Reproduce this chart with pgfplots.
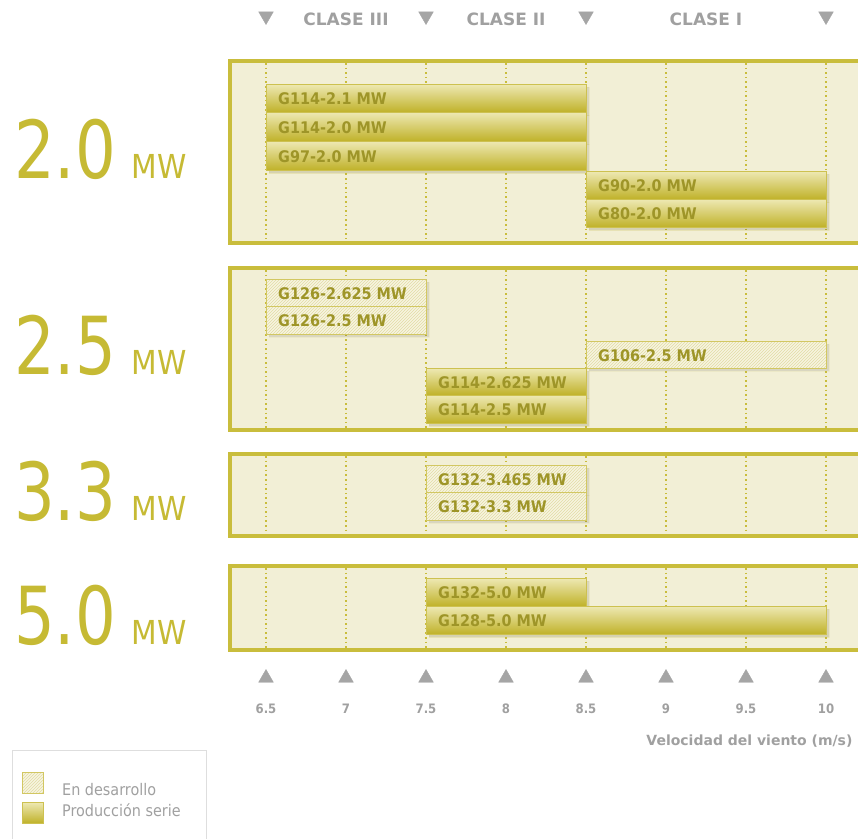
\documentclass[border=0pt]{standalone}
\usepackage{fontspec}
\usepackage{pgfplots}
\pgfplotsset{compat=1.18}
\usetikzlibrary{patterns}
\newfontfamily\dvc{DejaVu Sans Condensed}[BoldFont={DejaVu Sans Condensed Bold}]
\newfontfamily\dv{DejaVu Sans}
\definecolor{gold}{RGB}{198,186,52}
\definecolor{panelfill}{RGB}{242,239,214}
\definecolor{panelline}{RGB}{201,189,60}
\definecolor{prodtop}{RGB}{238,233,180}
\definecolor{prodmid}{RGB}{218,208,118}
\definecolor{prodbot}{RGB}{192,178,42}
\definecolor{prodedge}{RGB}{205,193,80}
\definecolor{devfill}{RGB}{247,244,224}
\definecolor{devhatch}{RGB}{226,220,165}
\definecolor{devedge}{RGB}{210,199,98}
\definecolor{barlabel}{RGB}{158,149,40}
\definecolor{greytxt}{RGB}{160,160,160}
\definecolor{greymark}{RGB}{165,165,165}
\definecolor{legline}{RGB}{222,222,222}

% x pixel -> data: x = 4.8375 + px/160
\newcommand\panel[2]{%
  \fill[panelfill] (axis cs:6.275,#1) rectangle (axis cs:10.2,#2);
  \draw[panelline, line width=3.2pt] (axis cs:10.2,#1) -- (axis cs:6.275,#1) -- (axis cs:6.275,#2) -- (axis cs:10.2,#2);
  \pgfplotsinvokeforeach{6.5,7,7.5,8,8.5,9,9.5,10}{%
    \draw[panelline, line width=1.6pt, dash pattern=on 1.6pt off 3pt] (axis cs:##1,{#1+2}) -- (axis cs:##1,{#2-2});}%
}
\tikzset{barshadow/.style={preaction={fill=black, opacity=0.10, transform canvas={xshift=3pt, yshift=-3pt}}}}
\newcommand\prodbar[5]{%
  \addplot[draw=prodedge, line width=0.7pt, barshadow, top color=prodtop, middle color=prodmid, bottom color=prodbot]
    coordinates {(#1,#3) (#2,#3) (#2,#4) (#1,#4) (#1,#3)};
  \node[anchor=west, text=barlabel, font=\dvc\bfseries\fontsize{16}{16}\selectfont, inner sep=0pt, xshift=12pt]
    at (axis cs:#1,{(#3+#4)/2+1}) {#5};
}
\newcommand\devbar[5]{%
  \addplot[draw=devedge, line width=0.9pt, barshadow, fill=devfill, postaction={pattern=north east lines, pattern color=devhatch}]
    coordinates {(#1,#3) (#2,#3) (#2,#4) (#1,#4) (#1,#3)};
  \node[anchor=west, text=barlabel, font=\dvc\bfseries\fontsize{16}{16}\selectfont, inner sep=0pt, xshift=12pt]
    at (axis cs:#1,{(#3+#4)/2+1}) {#5};
}
\newcommand\biglabel[2]{%
  \node[anchor=base west, inner sep=0pt, text=gold, font=\dvc\fontsize{80}{80}\selectfont] at (axis cs:4.925,#1) {\scalebox{0.89}[1]{#2}};
  \node[anchor=base west, inner sep=0pt, text=gold, font=\dvc\fontsize{33}{33}\selectfont] at (axis cs:5.66,#1) {MW};
}

\begin{document}
\begin{tikzpicture}
\begin{axis}[at={(0,0)}, anchor=south west, scale only axis,
  width=858pt, height=838pt,
  xmin=4.8375, xmax=10.2, ymin=0, ymax=838, y dir=reverse,
  hide axis, clip=false]

% panels
\panel{61}{243}
\panel{268}{430}
\panel{454}{536}
\panel{566}{650}

% 2.0 MW
\prodbar{6.5}{8.5}{84}{112}{G114-2.1 MW}
\prodbar{6.5}{8.5}{112}{141}{G114-2.0 MW}
\prodbar{6.5}{8.5}{141}{170}{G97-2.0 MW}
\prodbar{8.5}{10}{171}{199}{G90-2.0 MW}
\prodbar{8.5}{10}{199}{227}{G80-2.0 MW}

% 2.5 MW
\devbar{6.5}{7.5}{279}{306}{G126-2.625 MW}
\devbar{6.5}{7.5}{306}{334}{G126-2.5 MW}
\devbar{8.5}{10}{341}{368}{G106-2.5 MW}
\prodbar{7.5}{8.5}{368}{395}{G114-2.625 MW}
\prodbar{7.5}{8.5}{395}{423}{G114-2.5 MW}

% 3.3 MW
\devbar{7.5}{8.5}{465}{492}{G132-3.465 MW}
\devbar{7.5}{8.5}{492}{520}{G132-3.3 MW}

% 5.0 MW
\prodbar{7.5}{8.5}{578}{606}{G132-5.0 MW}
\prodbar{7.5}{10}{606}{634}{G128-5.0 MW}

% big labels
\biglabel{178}{2.0}
\biglabel{374}{2.5}
\biglabel{520}{3.3}
\biglabel{644}{5.0}

% class header
\addplot[only marks, mark=triangle*, mark size=8.5pt, mark options={rotate=180, fill=greymark, draw=greymark}, forget plot]
  coordinates {(6.5,16) (7.5,16) (8.5,16) (10,16)};
\node[text=greytxt, font=\dv\bfseries\fontsize{17}{17}\selectfont] at (axis cs:7.0,19) {CLASE III};
\node[text=greytxt, font=\dv\bfseries\fontsize{17}{17}\selectfont] at (axis cs:8.0,19) {CLASE II};
\node[text=greytxt, font=\dv\bfseries\fontsize{17}{17}\selectfont] at (axis cs:9.25,19) {CLASE I};

% bottom ticks
\addplot[only marks, mark=triangle*, mark size=8.5pt, mark options={fill=greymark, draw=greymark}, forget plot]
  coordinates {(6.5,678) (7,678) (7.5,678) (8,678) (8.5,678) (9,678) (9.5,678) (10,678)};
\pgfplotsinvokeforeach{6.5,7,7.5,8,8.5,9,9.5,10}{%
  \node[text=greytxt, font=\dvc\bfseries\fontsize{13}{13}\selectfont] at (axis cs:#1,709) {#1};}
\node[anchor=east, text=greytxt, font=\dv\bfseries\fontsize{14}{14}\selectfont] at (axis cs:10.1875,741) {Velocidad del viento (m/s)};

% legend
\draw[legline, line width=1pt] (axis cs:4.9125,845) -- (axis cs:4.9125,750) -- (axis cs:6.125,750) -- (axis cs:6.125,845);
\addplot[draw=devedge, line width=0.9pt, fill=devfill, postaction={pattern=north east lines, pattern color=devhatch}]
  coordinates {(4.975,772) (5.10625,772) (5.10625,793) (4.975,793) (4.975,772)};
\addplot[draw=prodedge, line width=0.7pt, top color=prodtop, middle color=prodmid, bottom color=prodbot]
  coordinates {(4.975,802) (5.10625,802) (5.10625,823) (4.975,823) (4.975,802)};
\node[anchor=base west, inner sep=0pt, text=greytxt, font=\dvc\fontsize{16}{16}\selectfont] at (axis cs:5.225,795) {En desarrollo};
\node[anchor=base west, inner sep=0pt, text=greytxt, font=\dvc\fontsize{16}{16}\selectfont] at (axis cs:5.225,816) {Producción serie};

\end{axis}
\pgfresetboundingbox
\path[use as bounding box] (0,0) rectangle (858pt,838pt);
\end{tikzpicture}
\end{document}
